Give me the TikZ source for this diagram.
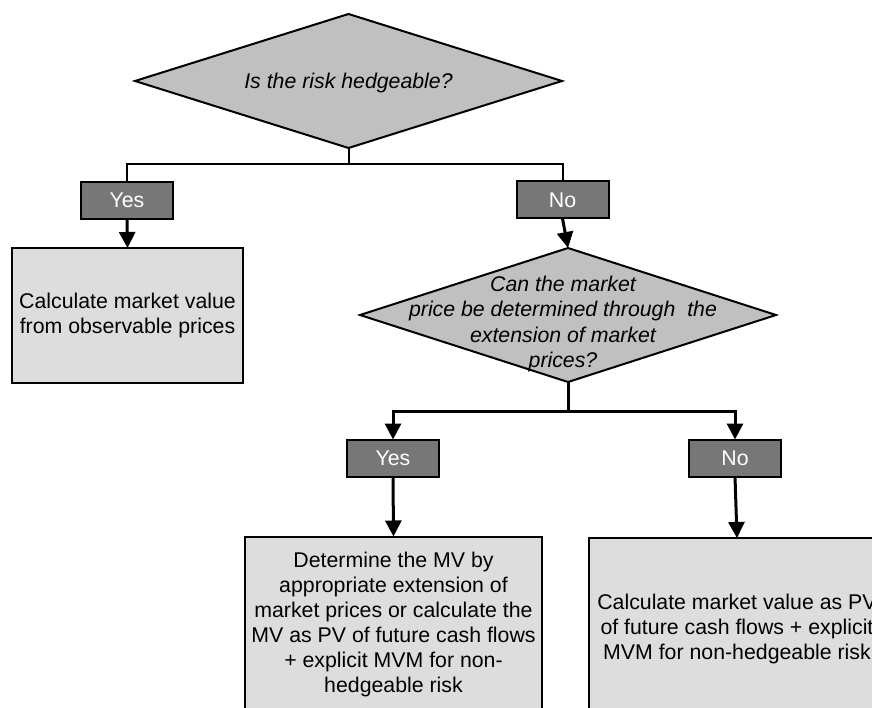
\documentclass[tikz,border=0pt]{standalone}
\usepackage{fontspec}
\setmainfont{Liberation Sans}
\usetikzlibrary{shapes.geometric,arrows.meta}
\definecolor{dfill}{HTML}{C0C0C0}
\definecolor{lfill}{HTML}{777777}
\definecolor{bfill}{HTML}{DDDDDD}
\begin{document}
\begin{tikzpicture}[x=1pt,y=-1pt,
  every node/.style={font=\fontsize{21.3}{25}\selectfont},
  dia/.style={diamond,draw=black,line width=2pt,fill=dfill,inner sep=0pt,outer sep=0pt},
  dtext/.style={align=center,font=\fontsize{21.3}{25.5}\selectfont\itshape,inner sep=0pt},
  lab/.style={draw=black,line width=2pt,fill=lfill,text=white,minimum width=92pt,minimum height=37pt,inner sep=0pt,outer sep=0pt},
  res/.style={draw=black,line width=2pt,fill=bfill,align=center,inner sep=0pt,outer sep=0pt},
  thinline/.style={line width=2pt},
  arr/.style={line width=3pt,-{Triangle[width=16pt,length=16pt]}},
  thickline/.style={line width=3pt}
]
\useasboundingbox (0,0) rectangle (872,708);
\fill[white] (0,0) rectangle (872,708);

% top decision
\node[dia,minimum width=427pt,minimum height=134pt] (d1) at (348.5,81) {};
\node[dtext] (t1) at (348.5,83) {Is the risk hedgeable?};

\node[lab] (y1) at (127,200.5) {Yes};
\node[lab] (n1) at (562.5,200) {No};

\draw[thinline] (d1.south) -- ++(0,16) coordinate (j1) -| (y1.north);
\draw[thinline] (j1) -| (n1.north);

\node[res,minimum width=231pt,minimum height=135pt] (b1) at (127.5,315.5)
  {Calculate market value\\from observable prices};
\draw[arr] (y1.south) -- (b1.north);

% second decision
\node[dia,minimum width=416pt,minimum height=134pt] (d2) at (568,315) {};
\node[dtext] (t2) at (563,324) {Can the market\\price be determined through\ \ the\\extension of market\\prices?};
\draw[arr] (n1.south) -- (d2.north);

\node[lab] (y2) at (393,458) {Yes};
\node[lab] (n2) at (735,458) {No};

\draw[thickline] (d2.south) -- ++(0,29) coordinate (j2);
\draw[arr] (j2) -| (y2.north);
\draw[arr] (j2) -| (n2.north);

\node[res,minimum width=297pt,minimum height=175pt] (b3) at (393.5,624)
  {Determine the MV by\\appropriate extension of\\market prices or calculate the\\MV as PV of future cash flows\\+ explicit MVM for non-\\hedgeable risk};
\node[res,minimum width=296pt,minimum height=182pt] (b4) at (737,629)
  {Calculate market value as PV\\of future cash flows + explicit\\MVM for non-hedgeable risk};
\draw[arr] (y2.south) -- (b3.north);
\draw[arr] (n2.south) -- (b4.north);
\end{tikzpicture}
\end{document}
